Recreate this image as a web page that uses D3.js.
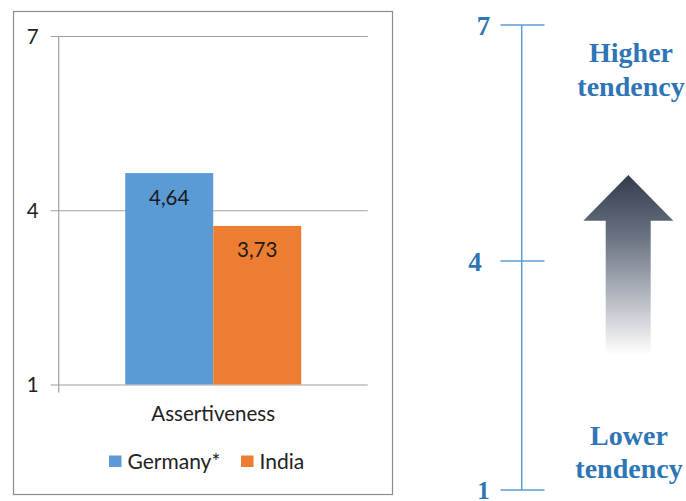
<!DOCTYPE html>
<html>
<head>
<meta charset="utf-8">
<script src="https://cdn.jsdelivr.net/npm/d3@7"></script>
<style>
html,body{margin:0;padding:0;background:#fff;}
svg{display:block;}
</style>
</head>
<body>
<svg id="chart" width="686" height="501"></svg>
<script>
// ---- data ----
const categories = ["Assertiveness"];
const seriesNames = ["Germany*", "India"];
const seriesValues = [4.64, 3.73];
const seriesColors = ["#5b9bd5", "#ed7d31"];
const yTicks = [1, 4, 7];
const valueLabels = ["4,64", "3,73"];
const scaleTicks = [1, 4, 7];
const scaleTexts = { high: ["Higher", "tendency"], low: ["Lower", "tendency"] };

const svg = d3.select("#chart");
const leftFont = "Lato, 'Open Sans', sans-serif";
const fs = 20.5;
const serif = "'Liberation Serif', 'DejaVu Serif', serif";

// ---- left chart frame ----
svg.append("rect").attr("x", 13.5).attr("y", 11.5).attr("width", 379).attr("height", 483)
  .attr("fill", "#fff").attr("stroke", "#8c8c8c").attr("stroke-width", 1.2);

const y = d3.scaleLinear().domain([1, 7]).range([384.5, 36]);
const x0 = d3.scaleBand().domain(categories).range([58.7, 367.7]).padding(0);
const x1 = d3.scaleBand().domain(seriesNames).range([0, x0.bandwidth()]).paddingInner(0).paddingOuter(0.756);

// gridlines + ticks
const yAxis = d3.axisLeft(y).tickValues(yTicks).tickSize(-(367.7 - 58.7)).tickSizeOuter(0)
  .tickFormat(d3.format("d"));
const gy = svg.append("g").attr("transform", "translate(58.7,0)").call(yAxis);
gy.select(".domain").remove();
gy.selectAll(".tick line").attr("stroke", "#a0a0a0").attr("stroke-width", 1.2).attr("x1", -8);
gy.selectAll(".tick text").attr("font-family", leftFont).attr("font-size", fs).attr("fill", "#222")
  .attr("x", -26).attr("text-anchor", "middle").attr("dy", "0.36em");

// y axis line
svg.append("line").attr("x1", 58.7).attr("x2", 58.7).attr("y1", y(7)).attr("y2", y(1) + 8)
  .attr("stroke", "#a0a0a0").attr("stroke-width", 1.2);

// bars
const barG = svg.append("g");
categories.forEach(cat => {
  seriesNames.forEach((s, i) => {
    const bx = x0(cat) + x1(s);
    barG.append("rect").attr("x", bx).attr("y", y(seriesValues[i]))
      .attr("width", x1.bandwidth()).attr("height", y(1) - y(seriesValues[i]))
      .attr("fill", seriesColors[i]);
    barG.append("text").attr("x", bx + x1.bandwidth() / 2).attr("y", y(seriesValues[i]) + 31.5)
      .attr("text-anchor", "middle").attr("font-family", leftFont).attr("font-size", fs)
      .attr("fill", "#1a1a1a").text(valueLabels[i]);
  });
  svg.append("text").attr("x", x0(cat) + x0.bandwidth() / 2).attr("y", 421)
    .attr("text-anchor", "middle").attr("font-family", leftFont).attr("font-size", fs)
    .attr("fill", "#222").text(cat);
});

// legend
const leg = svg.append("g");
const legPos = [109, 241];
seriesNames.forEach((s, i) => {
  leg.append("rect").attr("x", legPos[i]).attr("y", 455.5).attr("width", 12.5).attr("height", 11.5).attr("fill", seriesColors[i]);
  leg.append("text").attr("x", legPos[i] + 18.5).attr("y", 468.5).attr("font-family", leftFont).attr("font-size", fs + 0.5)
    .attr("fill", "#222").text(s);
});

// ---- right scale ----
const ys = d3.scaleLinear().domain([1, 4, 7]).range([490, 261, 25]);
const lineColor = "#5b9bd5";
const textBlue = "#2e75b6";
const sx = 521.7;
svg.append("line").attr("x1", sx).attr("x2", sx).attr("y1", ys(7)).attr("y2", ys(1))
  .attr("stroke", lineColor).attr("stroke-width", 1.5);
scaleTicks.forEach(t => {
  svg.append("line").attr("x1", 500.5).attr("x2", 544.5).attr("y1", ys(t)).attr("y2", ys(t))
    .attr("stroke", lineColor).attr("stroke-width", 1.5);
});
const labelX = { 7: 483.5, 4: 475, 1: 483.5 };
const labelDy = { 7: 9.5, 4: 9.5, 1: 8.5 };
scaleTicks.forEach(t => {
  svg.append("text").attr("x", labelX[t]).attr("y", ys(t) + labelDy[t]).attr("text-anchor", "middle")
    .attr("font-family", serif).attr("font-weight", "bold").attr("font-size", t === 1 ? 25 : 27)
    .attr("fill", textBlue).text(t);
});

function multiline(lines, cx, y0, lh) {
  lines.forEach((l, i) => {
    svg.append("text").attr("x", cx).attr("y", y0 + i * lh).attr("text-anchor", "middle")
      .attr("font-family", serif).attr("font-weight", "bold").attr("font-size", 28)
      .attr("fill", textBlue).text(l);
  });
}
multiline(scaleTexts.high, 631, 62, 33.5);
multiline(scaleTexts.low, 629, 445, 33);

// arrow with gradient
const defs = svg.append("defs");
const grad = defs.append("linearGradient").attr("id", "arrowGrad").attr("x1", 0).attr("y1", 0).attr("x2", 0).attr("y2", 1)
  .attr("gradientUnits", "objectBoundingBox");
grad.append("stop").attr("offset", "0%").attr("stop-color", "#323c4d");
grad.append("stop").attr("offset", "35%").attr("stop-color", "#6b7482");
grad.append("stop").attr("offset", "70%").attr("stop-color", "#b9bdc4");
grad.append("stop").attr("offset", "100%").attr("stop-color", "#ffffff");
const ap = d3.path();
ap.moveTo(628.3, 175); ap.lineTo(673.3, 220.7); ap.lineTo(650.7, 220.7); ap.lineTo(650.7, 355);
ap.lineTo(605.7, 355); ap.lineTo(605.7, 220.7); ap.lineTo(583.3, 220.7); ap.closePath();
svg.append("path").attr("d", ap.toString()).attr("fill", "url(#arrowGrad)");
</script>
</body>
</html>
